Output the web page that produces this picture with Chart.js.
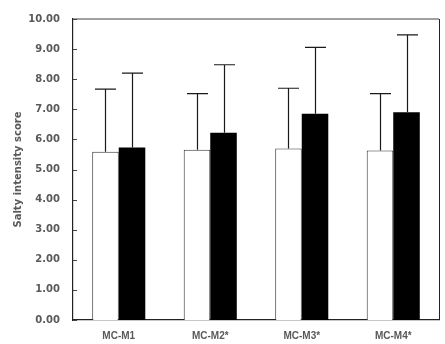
<!DOCTYPE html>
<html><head><meta charset="utf-8">
<script src="https://cdn.jsdelivr.net/npm/chart.js@4/dist/chart.umd.min.js"></script>
<style>html,body{margin:0;padding:0;background:#fff}#wrap{width:445px;height:344px}</style>
</head><body><div id="wrap"><canvas id="c" width="445" height="344"></canvas></div>
<script>
const categories = ["MC-M1", "MC-M2*", "MC-M3*", "MC-M4*"];
const mcValues = [5.59, 5.66, 5.70, 5.63];
const mcErrTop = [7.67, 7.52, 7.70, 7.52];
const mValues = [5.73, 6.22, 6.85, 6.90];
const mErrTop = [8.20, 8.48, 9.06, 9.47];
const yTicks = [0,1,2,3,4,5,6,7,8,9,10];
const yTitle = "Salty intensity score";

const errTops = [mcErrTop, mErrTop];

const errorBars = {
  id: 'errorBars',
  afterDatasetsDraw(chart) {
    const ctx = chart.ctx, ys = chart.scales.y;
    ctx.save();
    ctx.strokeStyle = '#1a1a1a';
    ctx.lineWidth = 1.2;
    chart.data.datasets.forEach((ds, di) => {
      const meta = chart.getDatasetMeta(di);
      meta.data.forEach((bar, i) => {
        const x = Math.round(bar.x) + 0.5;
        const yTop = ys.getPixelForValue(errTops[di][i]);
        ctx.beginPath();
        ctx.moveTo(x, bar.y);
        ctx.lineTo(x, yTop);
        ctx.moveTo(x - 10.5, yTop);
        ctx.lineTo(x + 10.5, yTop);
        ctx.stroke();
      });
    });
    ctx.restore();
  }
};

const frame = {
  id: 'frame',
  afterDraw(chart) {
    const ctx = chart.ctx, a = chart.chartArea, ys = chart.scales.y;
    ctx.save();
    ctx.lineWidth = 1.5;
    ctx.strokeStyle = '#808080';
    ctx.beginPath();
    ctx.moveTo(a.left, a.top);
    ctx.lineTo(a.right, a.top);
    ctx.stroke();
    ctx.strokeStyle = '#222';
    ctx.lineWidth = 1;
    ctx.beginPath();
    ctx.moveTo(a.right + 0.5, a.top);
    ctx.lineTo(a.right + 0.5, a.bottom);
    ctx.stroke();
    ctx.strokeStyle = '#444';
    ys.ticks.forEach(t => {
      const y = Math.round(ys.getPixelForValue(t.value)) + 0.5;
      ctx.beginPath();
      ctx.moveTo(a.left, y);
      ctx.lineTo(a.left + 4, y);
      ctx.stroke();
    });
    ctx.restore();
  }
};

new Chart(document.getElementById('c'), {
  type: 'bar',
  data: {
    labels: categories,
    datasets: [
      { data: mcValues, backgroundColor: '#ffffff', borderColor: '#333333', borderWidth: 1, categoryPercentage: 0.58, barPercentage: 1.0 },
      { data: mValues, backgroundColor: '#000000', borderColor: '#000000', borderWidth: 0, categoryPercentage: 0.58, barPercentage: 1.0 }
    ]
  },
  options: {
    responsive: false,
    animation: false,
    layout: { padding: { left: 0, right: 6, top: 16, bottom: 0 } },
    plugins: { legend: { display: false }, tooltip: { enabled: false } },
    scales: {
      x: {
        grid: { display: false, drawTicks: false },
        border: { display: true, color: '#222', width: 1.2 },
        ticks: { color: '#595959', padding: 10, font: { family: 'Liberation Sans', weight: 'bold', size: 10 } },
        afterFit(s) { s.height = 24; }
      },
      y: {
        min: 0, max: 10,
        afterBuildTicks(s) { s.ticks = yTicks.map(v => ({ value: v })); },
        grid: { display: false, drawTicks: false },
        border: { display: true, color: '#222', width: 1.2 },
        ticks: { color: '#595959', padding: 13, font: { family: 'DejaVu Sans', weight: 'bold', size: 10 }, callback: v => Number(v).toFixed(2) },
        title: { display: true, text: yTitle, color: '#595959', padding: { top: 12, bottom: 0 }, font: { family: 'DejaVu Sans', weight: 'bold', size: 10 } },
        afterFit(s) { s.width = 73; }
      }
    }
  },
  plugins: [errorBars, frame]
});
</script></body></html>
